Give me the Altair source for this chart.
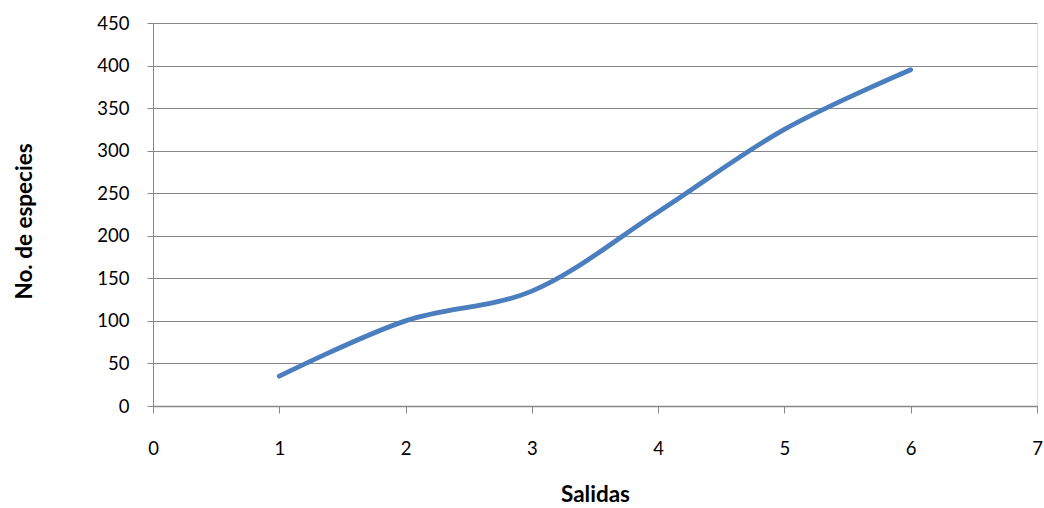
import altair as alt
import pandas as pd

salidas = [1, 2, 3, 4, 5, 6]
especies = [35, 100, 135, 228, 325, 395]

df = pd.DataFrame({"Salidas": salidas, "Especies": especies})

FONT = "Lato"
GRAY = "#878787"

chart = alt.Chart(df).mark_line(
    interpolate="catmull-rom", color="#4A7EBF", strokeWidth=4.8, strokeCap="round"
).encode(
    x=alt.X(
        "Salidas:Q",
        scale=alt.Scale(domain=[0, 7], nice=False, zero=False),
        axis=alt.Axis(
            title="Salidas", values=list(range(0, 8)), grid=False, labelFlush=False,
            domainColor=GRAY, tickColor=GRAY, tickSize=7, domainWidth=1.5,
            labelFontSize=18.5, labelFont=FONT, labelColor="black", labelPadding=26,
            titleFontSize=22.5, titleFont=FONT, titleFontWeight="bold", titlePadding=26,
            titleColor="black",
        ),
    ),
    y=alt.Y(
        "Especies:Q",
        scale=alt.Scale(domain=[0, 450], nice=False),
        axis=alt.Axis(
            title="No. de especies", values=list(range(0, 451, 50)), grid=True,
            gridColor=GRAY, gridWidth=1.2, domainColor=GRAY, tickColor=GRAY, tickSize=6,
            labelFontSize=18.5, labelFont=FONT, labelColor="black", labelPadding=18,
            titleFontSize=22.5, titleFont=FONT, titleFontWeight="bold", titlePadding=60,
            titleColor="black", titleY=198,
        ),
    ),
).properties(
    width=884, height=383,
    autosize=alt.AutoSizeParams(type="none"),
    padding={"left": 153, "top": 23, "right": 7, "bottom": 102},
).configure_view(stroke=None).configure(background="white")

chart.save("out.html", embed_options={"renderer": "svg", "actions": False})
